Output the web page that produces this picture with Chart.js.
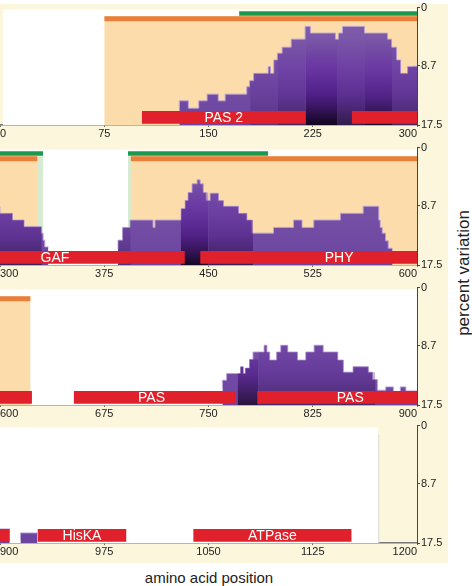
<!DOCTYPE html>
<html><head><meta charset="utf-8">
<script src="https://cdn.jsdelivr.net/npm/chart.js@4.4.1/dist/chart.umd.min.js"></script>
<style>
html,body{margin:0;padding:0;background:#fff;width:472px;height:586px;overflow:hidden;font-family:"Liberation Sans",Arial,sans-serif;}
#cream{position:absolute;left:0;top:4px;width:448px;height:559px;background:#fcf7dc;}
canvas{position:absolute;left:0;}
#ylab{position:absolute;left:464px;top:273px;transform:translate(-50%,-50%) rotate(-90deg);font-size:17px;color:#222;white-space:nowrap;}
#xlab{position:absolute;left:209px;top:577px;transform:translate(-50%,-50%);font-size:15px;color:#222;white-space:nowrap;}
</style></head><body>
<div id="cream"></div>
<canvas id="p0" width="448" height="140" style="top:0px"></canvas>
<canvas id="p1" width="448" height="140" style="top:140px"></canvas>
<canvas id="p2" width="448" height="140" style="top:280px"></canvas>
<canvas id="p3" width="448" height="140" style="top:418px"></canvas>
<div id="ylab">percent variation</div>
<div id="xlab">amino acid position</div>
<script>
// ---------------- data ----------------
const panelStarts = [0, 300, 600, 900];
const panelSpan = 300;
const xTickValues = [0, 75, 150, 225, 300, 375, 450, 525, 600, 675, 750, 825, 900, 975, 1050, 1125, 1200];
const yTicks = [0, 8.7, 17.5];
const yTickLabels = ['0', '8.7', '17.5'];
const proteinStart = 2;
const proteinEnd = 1172;
const orangeStarts = [75, 394];
const orangeEnds = [327, 622];
const greenStarts = [172, 392];
const greenEnds = [331, 493];
const domainNames = ['PAS 2', 'GAF', 'PHY', 'PAS', 'PAS', 'HisKA', 'ATPase'];
const domainStarts = [102, 253, 444, 653, 785, 927, 1039];
const domainEnds = [220, 433, 623, 770, 907, 991, 1153];
const domainLabelPos = [161, 339.5, 544, 709, 852, 959, 1096];
// percent variation profile (step starts); null = no data
const varPos = [129, 135.5, 143, 149, 157, 162, 177.5, 179.5, 182.5, 193, 194.5, 197, 199.5, 203, 209.5, 219.5, 223.3, 241.3, 243.5, 246.4, 262.2, 278.8, 281.7, 285.3, 288.2, 293.2, 296.8,
  300, 309, 317.3, 329.8, 331, 332.2, 333.5, 334.8, 334.9,
  384.9, 388.2, 393.5, 410.1, 411.5, 430.3, 433.2, 435.3, 438.2, 441.8, 444, 446.2, 448.3, 451.2, 457.2, 460.8, 471.6, 477.6, 481.3, 496.8, 511.2, 517.3, 525.7, 544.9, 561.3, 572.5, 573.5, 575, 577.4, 579.3, 581.2, 582.4, 582.5,
  760, 763, 773, 775, 776.5, 779.5, 782, 790, 792, 794, 799, 802, 807, 814, 820, 826, 832.5, 843, 847, 854, 865, 868, 871.5, 877.5, 883, 888, 892, 895.5, 907, 907.1,
  914.7, 920.2, 927, 927.1];
const varVal = [15.0, 13.9, 15.0, 13.9, 12.9, 13.9, 12.9, 11.8, 10.9, 9.8, 8.8, 9.8, 7.8, 6.8, 5.9, 4.7, 2.8, 3.8, 4.7, 3.8, 2.8, 3.8, 4.7, 5.9, 7.8, 9.8, 8.8,
  8.75, 9.8, 10.8, 11.8, 12.75, 13.8, 14.8, 14.8, null,
  15.1, 13.8, 11.9, 10.8, 11.9, 10.8, 9.1, 7.9, 6.7, 5.4, 4.8, 5.4, 6.7, 7.9, 6.8, 7.9, 8.75, 9.8, 10.8, 12.75, 11.9, 10.8, 11.9, 10.8, 9.8, 8.75, 10.8, 11.9, 12.75, 13.9, 15.0, 15.0, null,
  15.0, 13.8, 12.8, 11.8, 12.8, 12.0, 10.7, 9.6, 8.6, 9.6, 10.8, 9.6, 8.6, 9.6, 10.8, 9.6, 8.6, 9.6, 10.8, 12.6, 11.8, 12.6, 13.7, 15.3, 14.8, 15.5, 14.8, 15.4, 15.4, null,
  17.0, 16.0, 16.0, null];
// darker shading of columns
const shadeStarts = [180, 200, 220, 243, 262, 282, 300, 385, 430, 450, 771, 786];
const shadeEnds = [200, 220, 243, 262, 282, 300, 330, 394, 450, 482, 786, 870];
const shadeStrength = [0.25, 0.5, 1.0, 0.65, 0.9, 0.5, 0.55, 0.3, 0.95, 0.6, 0.75, 0.4];

// ---------------- helpers ----------------
const FONT = '"Liberation Sans", Arial, Helvetica, sans-serif';
function rangesLine(starts, ends, y) {
  const pts = [];
  starts.forEach((s, i) => {
    if (i > 0) pts.push({x: (ends[i - 1] + s) / 2, y: null});
    pts.push({x: s, y: y}, {x: ends[i], y: y});
  });
  return pts;
}
function valAt(x) {
  let v = null;
  for (let i = 0; i < varPos.length; i++) { if (varPos[i] <= x) v = varVal[i]; else break; }
  return v;
}
function profilePts() { return varPos.map((x, i) => ({x: x, y: varVal[i]})); }
function shadePts(s, e) {
  const pts = [{x: s, y: valAt(s)}];
  varPos.forEach((x, i) => { if (x > s && x < e) pts.push({x: x, y: varVal[i]}); });
  pts.push({x: e, y: valAt(e - 0.001)});
  return pts;
}
function vGrad(stops) {
  return (ctx) => {
    const ch = ctx.chart, a = ch.chartArea;
    if (!a) return 'rgba(0,0,0,0)';
    const g = ch.ctx.createLinearGradient(0, a.top, 0, a.bottom);
    stops.forEach(s => g.addColorStop(s[0], s[1]));
    return g;
  };
}
function shadeFill(k) {
  return vGrad([[0, 'rgba(90,30,150,0)'], [0.25, 'rgba(90,30,150,0)'],
    [0.5, 'rgba(95,30,160,' + (0.5 * k) + ')'], [0.75, 'rgba(70,20,125,' + (0.8 * k) + ')'],
    [1, 'rgba(15,3,25,' + (0.97 * k) + ')']]);
}
function fillDs(data, top, bottom, color, extra) {
  return Object.assign({data: data, fill: {value: bottom}, backgroundColor: color,
    borderWidth: 0, borderColor: 'transparent', pointRadius: 0, tension: 0}, extra || {});
}
function buildDatasets() {
  const ds = [];
  ds.push(fillDs([{x: proteinStart, y: 0.3}, {x: proteinEnd, y: 0.3}], 0.3, 17.5, '#ffffff'));
  ds.push(fillDs(rangesLine(greenStarts, greenEnds, 1.3), 1.3, 17.5, '#d6ebcf'));
  ds.push(fillDs(rangesLine(orangeStarts, orangeEnds, 1.3), 1.3, 17.5, '#fddcac'));
  ds.push(fillDs(rangesLine(orangeStarts, orangeEnds, 1.3), 1.3, 2.05, '#e8803c'));
  ds.push(fillDs(rangesLine(greenStarts, greenEnds, 0.55), 0.55, 1.2, '#1b9a4b'));
  ds.push(fillDs(profilePts(), 0, 17.5, vGrad([[0, '#8060ab'], [1, '#6c44a0']]),
    {stepped: 'after', borderWidth: 1, borderColor: 'rgba(185,160,215,0.9)'}));
  shadeStarts.forEach((s, i) => {
    ds.push(fillDs(shadePts(s, shadeEnds[i]), 0, 17.5, shadeFill(shadeStrength[i]), {stepped: 'after'}));
  });
  ds.push(fillDs(rangesLine(domainStarts, domainEnds, 15.4), 15.4, 17.3, '#e0212b'));
  ds.push({data: [{x: proteinEnd + 0.5, y: 1.4}, {x: proteinEnd + 0.5, y: 17.5}], fill: false,
    borderColor: '#dedede', borderWidth: 1.2, pointRadius: 0});
  const n = ds.length;
  ds.forEach((d, i) => { d.order = n - i; });
  return ds;
}
const domainLabelPlugin = {
  id: 'domainLabels',
  afterDatasetsDraw(chart) {
    const xs = chart.scales.x, ys = chart.scales.y, c = chart.ctx;
    c.save();
    c.font = '14px ' + FONT;
    c.fillStyle = '#ffffff';
    c.textAlign = 'center';
    c.textBaseline = 'middle';
    domainNames.forEach((n, i) => {
      const p = domainLabelPos[i];
      if (p < xs.min || p > xs.max) return;
      c.fillText(n, xs.getPixelForValue(p), ys.getPixelForValue(16.45));
    });
    c.restore();
  }
};

panelStarts.forEach((start, p) => {
  const end = start + panelSpan;
  new Chart(document.getElementById('p' + p), {
    type: 'line',
    data: {datasets: buildDatasets()},
    options: {
      responsive: false, animation: false, devicePixelRatio: 1, events: [],
      layout: {padding: {top: 7, left: 0, right: 0, bottom: 0}},
      plugins: {legend: {display: false}, tooltip: {enabled: false}},
      elements: {point: {radius: 0}, line: {tension: 0}},
      scales: {
        x: {type: 'linear', min: start, max: end, z: 1,
          afterBuildTicks: s => { s.ticks = xTickValues.filter(v => v >= start && v <= end).map(v => ({value: v})); },
          afterFit: s => { s.height = 15; },
          ticks: {align: 'inner', padding: 0, maxRotation: 0, autoSkip: false, color: '#222',
            font: {size: 11, family: FONT}, callback: v => String(v)},
          grid: {drawOnChartArea: false, drawTicks: true, tickLength: 2, color: '#666'},
          border: {display: true, color: '#777', width: 1.5}},
        y: {type: 'linear', position: 'right', reverse: true, min: 0, max: 17.5, z: 1,
          afterBuildTicks: s => { s.ticks = yTicks.map(v => ({value: v})); },
          afterFit: s => { s.width = 31; },
          ticks: {padding: 1, color: '#222', font: {size: 11, family: FONT}, callback: (v, i) => yTickLabels[i]},
          grid: {drawOnChartArea: false, tickLength: 3, color: '#444'},
          border: {display: true, color: '#444', width: 1}}
      }
    },
    plugins: [domainLabelPlugin]
  });
});
</script>
</body></html>
